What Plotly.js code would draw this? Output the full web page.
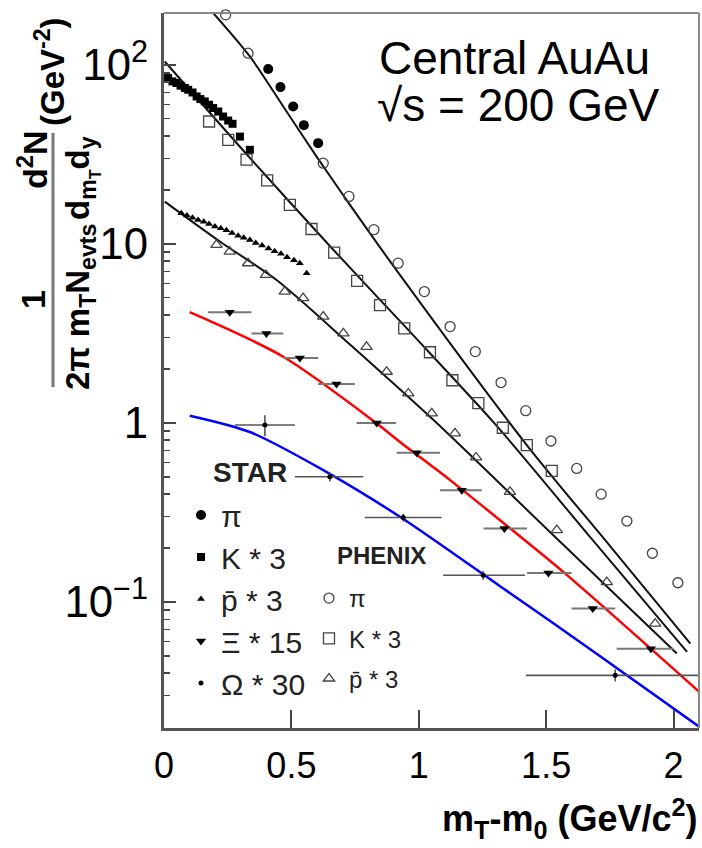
<!DOCTYPE html>
<html>
<head>
<meta charset="utf-8">
<script src="https://cdn.plot.ly/plotly-3.0.1.min.js"></script>
<style>html,body{margin:0;padding:0;background:#fff;}#chart{width:702px;height:848px;}</style>
</head>
<body>
<div id="chart"></div>
<script>
// ---------------- data ----------------
// STAR pi
const starPiX = [0.409, 0.457, 0.507, 0.549, 0.605];
const starPiY = [94.6, 75.0, 58.5, 46.0, 36.5];
// STAR K * 3
const starKX = [0.016,0.033,0.049,0.065,0.082,0.095,0.112,0.128,0.143,0.160,0.177,0.193,0.213,0.232,0.252,0.269,0.298,0.337];
const starKY = [84.3,80.7,79.1,76.4,74.2,72.5,70.0,66.5,64.3,62.4,59.8,57.3,54.8,51.4,48.8,46.8,39.7,33.5];
// STAR pbar * 3
const starPbarX = [0.068,0.090,0.112,0.134,0.156,0.177,0.200,0.223,0.245,0.267,0.291,0.313,0.337,0.360,0.385,0.410,0.434,0.459,0.483,0.510,0.533,0.560];
const starPbarY = [14.8,14.4,14.0,13.6,13.3,12.9,12.5,12.2,11.9,11.5,11.1,10.8,10.5,10.1,9.77,9.40,9.09,8.79,8.42,8.10,7.79,6.85];
// STAR Xi * 15 (with horizontal bin extents)
const xiX   = [0.258,0.402,0.533,0.677,0.835,0.992,1.169,1.336,1.509,1.683,1.911];
const xiY   = [4.15,3.16,2.30,1.65,1.00,0.681,0.421,0.257,0.145,0.0918,0.0548];
const xiXLo = [0.173,0.343,0.468,0.605,0.756,0.913,1.083,1.254,1.425,1.600,1.777];
const xiXHi = [0.343,0.468,0.605,0.750,0.911,1.083,1.247,1.425,1.600,1.771,2.000];
// STAR Omega * 30
const omX    = [0.396,0.651,0.939,1.253,1.771];
const omY    = [0.973,0.500,0.296,0.141,0.0389];
const omXLo  = [0.278,0.514,0.788,1.096,1.421];
const omXHi  = [0.514,0.782,1.090,1.417,2.200];
const omYErr = [0.13,0.03,0.015,0.008,0.003];
// PHENIX pi
const phPiX = [0.242,0.330,0.625,0.726,0.824,0.919,1.022,1.123,1.222,1.323,1.420,1.519,1.620,1.716,1.817,1.917,2.017];
const phPiY = [190,116,28.2,18.4,12.0,7.80,5.41,3.45,2.50,1.68,1.17,0.792,0.557,0.400,0.283,0.187,0.128];
// PHENIX K * 3
const phKX = [0.177,0.252,0.324,0.405,0.494,0.579,0.668,0.758,0.848,0.943,1.044,1.132,1.234,1.330,1.424,1.522];
const phKY = [48.2,38.1,29.5,22.6,16.5,12.1,8.93,6.21,4.55,3.37,2.48,1.73,1.29,0.939,0.752,0.540];
// PHENIX pbar * 3
const phPbarX = [0.206,0.258,0.330,0.400,0.474,0.546,0.625,0.704,0.795,0.874,0.959,1.051,1.142,1.225,1.358,1.542,1.738,1.928];
const phPbarY = [9.86,9.04,7.79,6.70,5.41,4.97,3.92,3.16,2.66,1.93,1.46,1.13,0.873,0.641,0.412,0.252,0.129,0.0757];
// fit curves
const piFitX = [0.193,0.337,0.468,0.599,0.730,0.926,1.424,1.751,2.066];
const piFitY = [194.5,111.3,58.5,30.7,16.5,6.70,0.752,0.205,0.0585];
const kFitX = [0.003,0.337,0.651,0.966,1.300,1.673,2.053];
const kFitY = [104.3,30.2,9.72,3.22,0.984,0.230,0.0526];
const pbarFitX = [0.003,0.219,0.442,0.730,1.057,1.516,2.013];
const pbarFitY = [17.2,10.3,6.28,2.74,1.04,0.245,0.0515];
const xiFitX = [0.101,0.468,0.835,0.926,1.123,1.319,1.575,2.102];
const xiFitY = [4.15,2.34,0.993,0.783,0.479,0.286,0.144,0.0314];
const omFitX = [0.101,0.337,0.625,0.926,1.319,1.712,2.102];
const omFitY = [1.097,0.889,0.545,0.299,0.1225,0.0498,0.02005];
// legend labels
const starNames = ['\u03C0', 'K * 3', 'p\u0304 * 3', '\u039E * 15', '\u03A9 * 30'];
const phenixNames = ['\u03C0', 'K * 3', 'p\u0304 * 3'];
const xTickVals = [0, 0.5, 1, 1.5, 2];

// ---------------- layout helpers ----------------
const W = 702, H = 848, L = 164, R = 3, T = 13, B = 120;
const PX = v => (v - L) / (W - L - R);
const PY = v => (H - B - v) / (H - T - B);
const FONT = 'Liberation Sans, Arial, DejaVu Sans, sans-serif';

const lo = (c, l) => c.map((v, i) => v - l[i]);
const hi = (c, h) => c.map((v, i) => h[i] - v);

function fit(x, y, color, w) {
  return {x, y, type: 'scatter', mode: 'lines', showlegend: false, hoverinfo: 'skip',
          line: {color, width: w, shape: 'spline', smoothing: 0.8}};
}

const traces = [
  fit(piFitX, piFitY, '#111', 2),
  fit(kFitX, kFitY, '#111', 2),
  fit(pbarFitX, pbarFitY, '#111', 2),
  fit(xiFitX, xiFitY, '#ff0000', 2.5),
  fit(omFitX, omFitY, '#0000ff', 2.5),
  // STAR
  {x: starPiX, y: starPiY, name: starNames[0], type: 'scatter', mode: 'markers', legend: 'legend',
   marker: {symbol: 'circle', size: 10, color: '#000'}},
  {x: starKX, y: starKY, name: starNames[1], type: 'scatter', mode: 'markers', legend: 'legend',
   marker: {symbol: 'square', size: 8, color: '#000'}},
  {x: starPbarX, y: starPbarY, name: starNames[2], type: 'scatter', mode: 'markers', legend: 'legend',
   marker: {symbol: 'triangle-up', size: 7, color: '#000'}},
  {x: xiX, y: xiY, name: starNames[3], type: 'scatter', mode: 'markers', legend: 'legend',
   marker: {symbol: 'triangle-down', size: 9, color: '#000'},
   error_x: {type: 'data', symmetric: false, array: hi(xiX, xiXHi), arrayminus: lo(xiX, xiXLo),
             color: '#777', thickness: 2, width: 0}},
  {x: omX, y: omY, name: starNames[4], type: 'scatter', mode: 'markers', legend: 'legend',
   marker: {symbol: 'circle', size: 5, color: '#000'},
   error_x: {type: 'data', symmetric: false, array: hi(omX, omXHi), arrayminus: lo(omX, omXLo),
             color: '#555', thickness: 1.6, width: 0},
   error_y: {type: 'data', array: omYErr, color: '#555', thickness: 1.6, width: 0}},
  // PHENIX
  {x: phPiX, y: phPiY, name: phenixNames[0], type: 'scatter', mode: 'markers', legend: 'legend2',
   legendgroup: 'g1', cliponaxis: false,
   marker: {symbol: 'circle-open', size: 10, color: '#444', line: {width: 1.3}}},
  {x: phKX, y: phKY, name: phenixNames[1], type: 'scatter', mode: 'markers', legend: 'legend2',
   legendgroup: 'g2',
   marker: {symbol: 'square-open', size: 11, color: '#444', line: {width: 1.3}}},
  {x: phPbarX, y: phPbarY, name: phenixNames[2], type: 'scatter', mode: 'markers', legend: 'legend2',
   legendgroup: 'g3',
   marker: {symbol: 'triangle-up-open', size: 10, color: '#444', line: {width: 1.3}}}
];

function ann(text, x, y, size, extra) {
  return Object.assign({text, xref: 'paper', yref: 'paper', x: PX(x), y: PY(y), showarrow: false,
    font: {family: FONT, size, color: '#000'}, xanchor: 'center', yanchor: 'middle'}, extra || {});
}

const layout = {
  width: W, height: H,
  margin: {l: L, r: R, t: T, b: B, pad: 0},
  paper_bgcolor: '#fff', plot_bgcolor: '#fff',
  font: {family: FONT, color: '#000'},
  xaxis: {
    range: [0, 2.1], tickvals: xTickVals, ticks: 'inside', ticklen: 18, tickwidth: 2, tickcolor: '#444',
    showline: true, linewidth: 3, linecolor: '#555', showgrid: false, zeroline: false,
    tickfont: {family: FONT, size: 36, color: '#000'}, ticklabelstandoff: 4
  },
  yaxis: {
    type: 'log', range: [-1.704, 2.289], dtick: 1, exponentformat: 'power',
    ticks: 'inside', ticklen: 12, tickwidth: 2, tickcolor: '#444',
    minor: {dtick: 'D1', ticks: 'inside', ticklen: 6, tickwidth: 1.5, tickcolor: '#444', showgrid: false},
    showline: true, linewidth: 3, linecolor: '#555', showgrid: false, zeroline: false,
    tickfont: {family: FONT, size: 35, color: '#000'}, ticklabelstandoff: 6
  },
  showlegend: true,
  legend: {x: PX(181), y: PY(489), xanchor: 'left', yanchor: 'top', bgcolor: 'rgba(0,0,0,0)',
           font: {family: FONT, size: 30, color: '#222'}, traceorder: 'normal', itemclick: false},
  legend2: {x: PX(309), y: PY(576), xanchor: 'left', yanchor: 'top', bgcolor: 'rgba(0,0,0,0)',
            font: {family: FONT, size: 24, color: '#222'}, traceorder: 'grouped', tracegroupgap: 6,
            itemclick: false},
  shapes: [
    {type: 'line', xref: 'paper', yref: 'paper', x0: 0, x1: 1, y0: 1, y1: 1, line: {color: '#888', width: 2}},
    {type: 'line', xref: 'paper', yref: 'paper', x0: 1, x1: 1, y0: 0, y1: 1, line: {color: '#888', width: 2}},
    {type: 'line', xref: 'paper', yref: 'paper', x0: PX(53), x1: PX(53), y0: PY(133), y1: PY(387),
     line: {color: '#777', width: 3}}
  ],
  annotations: [
    ann('Central AuAu', 377, 58, 46, {xanchor: 'left'}),
    ann('\u221As = 200 GeV', 375, 105, 46, {xanchor: 'left'}),
    ann('<b>STAR</b>', 211, 472, 28, {xanchor: 'left', font: {family: FONT, size: 28, color: '#222'}}),
    ann('<b>PHENIX</b>', 335, 555, 24, {xanchor: 'left', font: {family: FONT, size: 24, color: '#222'}}),
    ann('<b>m<sub>T</sub>-m<sub>0</sub> (GeV/c<sup>2</sup>)</b>', 700, 818, 36, {xanchor: 'right'}),
    ann('<b>(GeV<sup>-2</sup>)</b>', 50, 72, 33, {textangle: -90}),
    ann('<b>1</b>', 33, 300, 34, {textangle: -90}),
    ann('<b>d<sup>2</sup>N</b>', 33, 160, 34, {textangle: -90}),
    ann('<b>2\u03C0 m<sub>T</sub>N<sub>evts</sub></b>', 80, 307, 33, {textangle: -90}),
    ann('<b>d<sub>m<sub>T</sub></sub>d<sub>y</sub></b>', 82, 178, 33, {textangle: -90})
  ]
};

Plotly.newPlot('chart', traces, layout, {displayModeBar: false, staticPlot: true});
</script>
</body>
</html>
